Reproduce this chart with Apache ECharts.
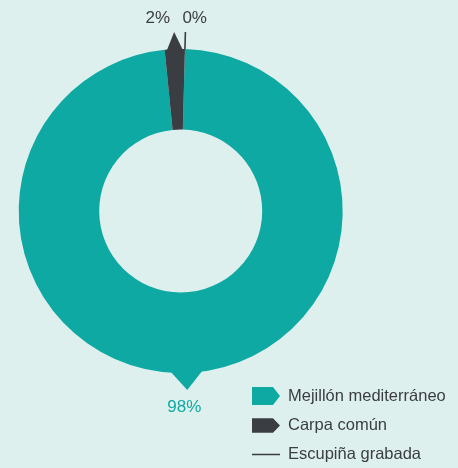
<!DOCTYPE html>
<html><head><meta charset="utf-8">
<script src="https://cdn.jsdelivr.net/npm/echarts@6/dist/echarts.min.js"></script>
<style>html,body{margin:0;padding:0;background:#def0ee}#c{width:458px;height:468px}</style>
</head><body><div id="c"></div>
<script>
const categories = ['Mejillón mediterráneo', 'Carpa común', 'Escupiña grabada'];
const values = [98, 2, 0];
const palette = ['#0ea9a3', '#3a3d42', '#3a3d42'];
const legendIcons = [
  'path://M0,0L21,0L28,9L21,18L0,18Z',
  'path://M0,0L21,0L28,7.3L21,14.6L0,14.6Z',
  'path://M0,0L26,0L26,1.4L0,1.4Z'
];

const CX = 180.7, CY = 211, R_OUT = 162, R_IN = 81.5, START = 88.5;

let cum = 0;
const pointerData = values.map((v, i) => { const s = cum; cum += v; return [100, s, cum, v, i]; });

const chart = echarts.init(document.getElementById('c'), null, {renderer: 'canvas'});
chart.setOption({
  backgroundColor: '#def0ee',
  animation: false,
  polar: {center: [CX, CY], radius: R_OUT},
  angleAxis: {type: 'value', min: 0, max: 100, startAngle: START, clockwise: true, show: false,
    axisLine: {show: false}, splitLine: {show: false}, axisLabel: {show: false}, axisTick: {show: false}},
  radiusAxis: {type: 'value', min: 0, max: 100, show: false,
    axisLine: {show: false}, splitLine: {show: false}, axisLabel: {show: false}, axisTick: {show: false}},
  legend: {
    orient: 'vertical', left: 252, top: 387, height: 85, padding: 0,
    itemWidth: 28, itemHeight: 18, itemGap: 12,
    selectedMode: false,
    textStyle: {fontFamily: '"Liberation Sans", Arial, sans-serif', fontSize: 16.5, color: '#3a3d42', padding: [0, 0, 0, 3]},
    data: categories.map((n, i) => ({name: n, icon: legendIcons[i], itemStyle: {color: palette[i]}}))
  },
  series: [
    {
      type: 'custom', coordinateSystem: 'polar', silent: true, z: 1,
      encode: {radius: 0, angle: 1},
      data: pointerData,
      renderItem: function (params, api) {
        const s = api.value(1), e = api.value(2), v = api.value(3), i = api.value(4);
        const mid = (s + e) / 2;
        const half = Math.min(2.0, (e - s) / 2);
        const tip = api.coord([110.5, mid]);
        const color = palette[i];
        const children = [];
        if (v > 0) {
          const a = api.coord([97, mid - half]);
          const b = api.coord([97, mid + half]);
          children.push({type: 'polygon', shape: {points: [a, tip, b]}, style: {fill: color}});
        } else {
          const a = api.coord([99, mid]);
          children.push({type: 'line', shape: {x1: a[0], y1: a[1], x2: tip[0], y2: tip[1]}, style: {stroke: color, lineWidth: 1.6}});
        }
        let tx, ty, align, va;
        if (tip[1] > CY) { tx = tip[0] - 3; ty = tip[1] + 9; align = 'center'; va = 'top'; }
        else if (tip[0] < CX + 0.5 && v > 0) { tx = tip[0] - 4; ty = tip[1] - 5; align = 'right'; va = 'bottom'; }
        else { tx = tip[0] - 3; ty = tip[1] - 5; align = 'left'; va = 'bottom'; }
        children.push({type: 'text', style: {x: tx, y: ty, text: values[i] + '%', fill: color,
          fontSize: 17, fontFamily: '"Liberation Sans", Arial, sans-serif', align: align, verticalAlign: va}});
        return {type: 'group', children: children};
      }
    },
    {
      type: 'pie', center: [CX, CY], radius: [R_IN, R_OUT], startAngle: START, clockwise: true,
      silent: true, z: 3, label: {show: false}, labelLine: {show: false}, emphasis: {disabled: true},
      data: categories.map((n, i) => ({name: n, value: values[i], itemStyle: {color: palette[i]}}))
    }
  ]
});
</script></body></html>
